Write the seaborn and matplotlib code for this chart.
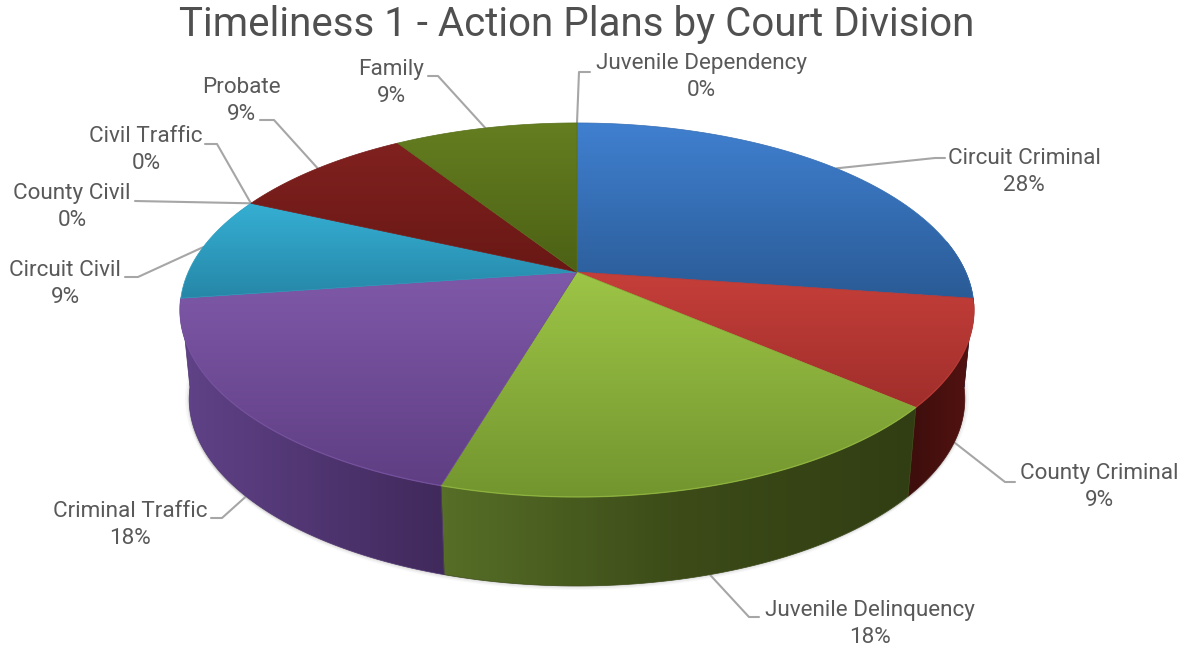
import numpy as np
import seaborn as sns
import matplotlib.pyplot as plt
from matplotlib.patches import Polygon

# action plan counts per division, clockwise from 12 o'clock
divisions = ["Circuit Criminal", "County Criminal", "Juvenile Delinquency", "Criminal Traffic", "Circuit Civil",
             "County Civil", "Civil Traffic", "Probate", "Family", "Juvenile Dependency"]
plans = [3, 1, 2, 2, 1, 0, 0, 1, 1, 0]
pct_labels = [28, 9, 18, 18, 9, 0, 0, 9, 9, 0]

# colours: top face light/dark, side face left/right
top_cols = [("#4080d0", "#2a5b96"), ("#c63f3a", "#a02e2b"), ("#9dc546", "#73952f"), ("#7f59a9", "#5f3e83"),
            ("#35afd3", "#2687a8"), None, None, ("#80211f", "#691815"), ("#657e20", "#4c6115"), None]
side_cols = [("#2a5b96", "#1f4570"), ("#3c0e0c", "#541311"), ("#566e27", "#3c4b18", "#313e13"), ("#604288", "#40295b"),
             ("#1e6a85", "#1e6a85"), None, None, ("#4c100e", "#4c100e"), ("#35440f", "#35440f"), None]

# label layout: text centre, then the leader elbow points in pixels
label_pos = [(1024, 172), (1099, 487), (870, 624), (130, 525), (65, 284), (72, 207), (146, 150), (241, 101), (391, 83), (701, 77)]
elbows = [[(935, 158), (945, 158)], [(1005, 482), (1015, 482)], [(749, 617), (759, 617)], [(222, 518), (211, 518)],
          [(138, 277), (125, 277)], [(135, 201)], [(217, 144), (205, 144)], [(274, 120), (260, 120)],
          [(438, 76), (428, 76)], [(579, 72), (590, 72)]]
on_side = [False, True, True, True, False, False, False, False, False, False]

cx, cy = 577, 272
persp, ry, rx = 0.203, 179.3, 388.7
depth = 89


def rim(deg, r=1.0):
    a = np.radians(deg)
    s, c = r * np.sin(a), r * np.cos(a)
    w = 1 + persp * c
    return cx + rx * s / w, cy - ry * c / w


def low(deg):
    x, y = rim(deg)
    return cx + 0.977 * (x - cx), y + depth


def fill_grad(ax, pts, cols, horizontal, z):
    pts = np.array(pts)
    x0, y0 = pts.min(axis=0)
    x1, y1 = pts.max(axis=0)
    cmap = sns.blend_palette(cols, as_cmap=True)
    g = np.linspace(0, 1, 128)
    g = g.reshape(1, -1) if horizontal else g.reshape(-1, 1)
    im = ax.imshow(g, cmap=cmap, vmin=0, vmax=1, extent=(x0, x1, y1, y0), aspect="auto", zorder=z)
    mid = sns.blend_palette(cols, 3)[1]
    p = Polygon(pts, closed=True, fc="none", ec=mid, lw=0.5, zorder=z)
    ax.add_patch(p)
    im.set_clip_path(p)


sns.set_theme(style="white")
plt.rcParams["font.family"] = ["Roboto", "DejaVu Sans"]

fig = plt.figure(figsize=(11.9, 6.49), dpi=100)
ax = fig.add_axes([0, 0, 1, 1])

shares = np.array(plans) / sum(plans) * 360
ends = np.cumsum(shares)
starts = ends - shares
mids = (starts + ends) / 2

# soft shadow under the disc
ring = np.linspace(0, 360, 200)
for off, al in [(1, 0.16), (2.5, 0.10), (4, 0.06)]:
    shadow = [(low(d)[0] - 0.5, low(d)[1] + off) for d in ring]
    ax.add_patch(Polygon(shadow, closed=True, fc="#808080", ec="none", alpha=al, zorder=1))
for off, al in [(2, 0.12), (4, 0.07)]:
    shadow = [(cx + (low(d)[0] - cx) * (1 + off / 385), low(d)[1]) for d in ring]
    ax.add_patch(Polygon(shadow, closed=True, fc="#808080", ec="none", alpha=al, zorder=1))

# side walls first
for i in range(len(plans)):
    if plans[i] == 0:
        continue
    a0, a1 = max(starts[i], 80), min(ends[i], 262)
    if a1 - a0 < 1:
        continue
    arc = np.linspace(a0, a1, 60)
    pts = [rim(d) for d in arc] + [low(d) for d in arc[::-1]]
    fill_grad(ax, pts, side_cols[i], True, 2)

# top faces
for i in range(len(plans)):
    if plans[i] == 0:
        continue
    arc = np.linspace(starts[i], ends[i], 60)
    pts = [(cx, cy)] + [rim(d) for d in arc]
    fill_grad(ax, pts, top_cols[i], False, 3)

# thin highlight along the front rim
for i in range(len(plans)):
    if plans[i] == 0:
        continue
    a0, a1 = max(starts[i], 100), min(ends[i], 262)
    if a1 > a0:
        arc = np.linspace(a0, a1, 60)
        xy = np.array([rim(d) for d in arc])
        ax.plot(xy[:, 0], xy[:, 1], color=top_cols[i][0], lw=1.0, alpha=0.5, zorder=4)

# labels and leaders
for i in range(len(plans)):
    start = low(mids[i]) if on_side[i] else rim(mids[i])
    line = [start] + elbows[i]
    ax.plot([p[0] for p in line], [p[1] for p in line], color="#a6a6a6", lw=1.5, zorder=1.5, solid_joinstyle="round")
    ax.text(label_pos[i][0], label_pos[i][1], f"{divisions[i]}\n{pct_labels[i]}%", ha="center", va="center",
            fontsize=16.2, color="#595959", linespacing=1.42)

ax.text(577, 24, "Timeliness 1 - Action Plans by Court Division", ha="center", va="center", fontsize=29,
        color="#505050")

ax.set_xlim(0, 1190)
ax.set_ylim(649, 0)
ax.axis("off")
fig.savefig("out.png", dpi=100)
